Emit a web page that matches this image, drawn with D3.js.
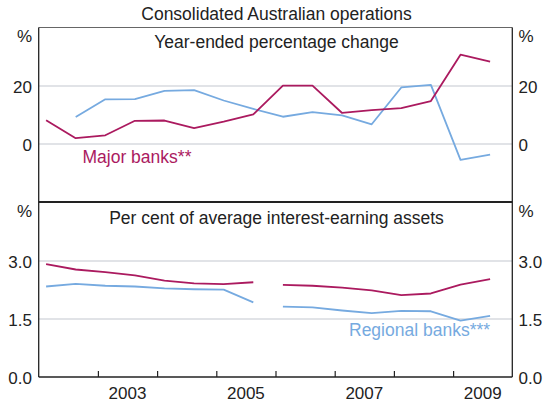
<!DOCTYPE html>
<html>
<head>
<meta charset="utf-8">
<script src="https://cdn.jsdelivr.net/npm/d3@7"></script>
<style>
  body { margin: 0; background: #fff; }
  svg text { font-family: "Liberation Sans", Arial, sans-serif; fill: #222; }
</style>
</head>
<body>
<svg id="chart" width="546" height="402"></svg>
<script>
// half-yearly observations (decimal years)
var periods = [2002.125, 2002.625, 2003.125, 2003.625, 2004.125, 2004.625, 2005.125, 2005.625,
               2006.125, 2006.625, 2007.125, 2007.625, 2008.125, 2008.625, 2009.125, 2009.625];

// year-ended percentage change
var majorGrowth    = [8.2, 2.0, 3.0, 8.0, 8.1, 5.5, 7.7, 10.2, 20.1, 20.1, 10.7, 11.7, 12.4, 14.8, 30.8, 28.4];
var regionalGrowth = [null, 9.3, 15.4, 15.5, 18.3, 18.6, 15.0, 12.1, 9.4, 11.0, 9.9, 6.8, 19.5, 20.4, -5.5, -3.7];

// per cent of average interest-earning assets (break in series after 8th obs)
var majorMargin    = [2.92, 2.78, 2.71, 2.63, 2.49, 2.42, 2.40, 2.45, 2.38, 2.36, 2.31, 2.24, 2.12, 2.16, 2.39, 2.53];
var regionalMargin = [2.34, 2.41, 2.36, 2.34, 2.29, 2.27, 2.26, 1.93, 1.82, 1.80, 1.72, 1.65, 1.71, 1.70, 1.46, 1.58];
var breakAt = 8;

var topTicks = [0, 20];
var botTicks = [0, 1.5, 3.0];
var yearTicks = [2003, 2004, 2005, 2006, 2007, 2008, 2009];
var yearLabels = [2003, 2005, 2007, 2009];

var majorColor = "#ab1a5f",
    regionalColor = "#76aae0",
    gridColor = "#c4c8d0";

var svg = d3.select("#chart");
var left = 38.7, right = 512.3;

var x = d3.scaleLinear().domain([2002, 2010]).range([left, right]);
var yTop = d3.scaleLinear().domain([-20, 40]).range([202, 28]);
var yBot = d3.scaleLinear().domain([0, 4.5]).range([377, 203]);

// gridlines
svg.append("g").selectAll("line").data(topTicks).enter().append("line")
    .attr("x1", left).attr("x2", right)
    .attr("y1", function(d) { return yTop(d); }).attr("y2", function(d) { return yTop(d); })
    .attr("stroke", gridColor).attr("stroke-width", 1.2);
svg.append("g").selectAll("line").data(botTicks.filter(function(d){ return d > 0; })).enter().append("line")
    .attr("x1", left).attr("x2", right)
    .attr("y1", function(d) { return yBot(d); }).attr("y2", function(d) { return yBot(d); })
    .attr("stroke", gridColor).attr("stroke-width", 1.2);

function drawLine(values, yScale, color, from, to) {
  var pts = [];
  for (var i = from; i < to; i++) pts.push([periods[i], values[i]]);
  var line = d3.line()
      .defined(function(d) { return d[1] != null; })
      .x(function(d) { return x(d[0]); })
      .y(function(d) { return yScale(d[1]); });
  svg.append("path").datum(pts)
      .attr("d", line)
      .attr("fill", "none")
      .attr("stroke", color)
      .attr("stroke-width", 1.8)
      .attr("stroke-linejoin", "round");
}

drawLine(regionalGrowth, yTop, regionalColor, 0, periods.length);
drawLine(majorGrowth, yTop, majorColor, 0, periods.length);
drawLine(regionalMargin, yBot, regionalColor, 0, breakAt);
drawLine(regionalMargin, yBot, regionalColor, breakAt, periods.length);
drawLine(majorMargin, yBot, majorColor, 0, breakAt);
drawLine(majorMargin, yBot, majorColor, breakAt, periods.length);

// frame
svg.append("line").attr("x1", left).attr("x2", right).attr("y1", 27.5).attr("y2", 27.5)
    .attr("stroke", "#666").attr("stroke-width", 1);
svg.append("line").attr("x1", left).attr("x2", right).attr("y1", 202).attr("y2", 202)
    .attr("stroke", "#222").attr("stroke-width", 2);
svg.append("line").attr("x1", left).attr("x2", right).attr("y1", 377).attr("y2", 377)
    .attr("stroke", "#222").attr("stroke-width", 1.3);
[left, right].forEach(function(xx) {
  svg.append("line").attr("x1", xx).attr("x2", xx).attr("y1", 27.5).attr("y2", 377)
      .attr("stroke", "#222").attr("stroke-width", 1.3);
});

// x ticks
var xAxis = d3.axisBottom(x).tickValues(yearTicks).tickSize(-6).tickFormat("");
var gx = svg.append("g").attr("transform", "translate(0,377)").call(xAxis);
gx.select(".domain").remove();
gx.selectAll(".tick line").attr("stroke", "#222").attr("stroke-width", 1.2);

svg.append("g").selectAll("text").data(yearLabels).enter().append("text")
    .attr("x", function(d) { return x(d + 0.5); })
    .attr("y", 398.5)
    .attr("text-anchor", "middle")
    .attr("font-size", 17)
    .text(function(d) { return d; });

// y labels both sides
function yLabels(ticks, yScale, fmt, pctY) {
  [{ xx: 32, anchor: "end" }, { xx: 518.5, anchor: "start" }].forEach(function(s) {
    svg.append("g").selectAll("text").data(ticks).enter().append("text")
        .attr("x", s.xx)
        .attr("y", function(d) { return yScale(d) + 6.5; })
        .attr("text-anchor", s.anchor)
        .attr("font-size", 17)
        .text(fmt);
    svg.append("text").attr("x", s.xx).attr("y", pctY)
        .attr("text-anchor", s.anchor).attr("font-size", 17).text("%");
  });
}
yLabels(topTicks, yTop, d3.format("d"), 41.5);
yLabels(botTicks, yBot, d3.format(".1f"), 217);

// titles
var cx = (left + right) / 2 + 1;
svg.append("text").attr("x", cx).attr("y", 19.5).attr("text-anchor", "middle")
    .attr("font-size", 17.5).text("Consolidated Australian operations");
svg.append("text").attr("x", cx).attr("y", 47.5).attr("text-anchor", "middle")
    .attr("font-size", 17.5).text("Year-ended percentage change");
svg.append("text").attr("x", cx).attr("y", 223.5).attr("text-anchor", "middle")
    .attr("font-size", 17.5).text("Per cent of average interest-earning assets");

// series labels
svg.append("text").attr("x", 82.5).attr("y", 162.5).attr("font-size", 17.5)
    .style("fill", majorColor).text("Major banks**");
svg.append("text").attr("x", 349).attr("y", 335.5).attr("font-size", 17.5)
    .style("fill", regionalColor).text("Regional banks***");
</script>
</body>
</html>
